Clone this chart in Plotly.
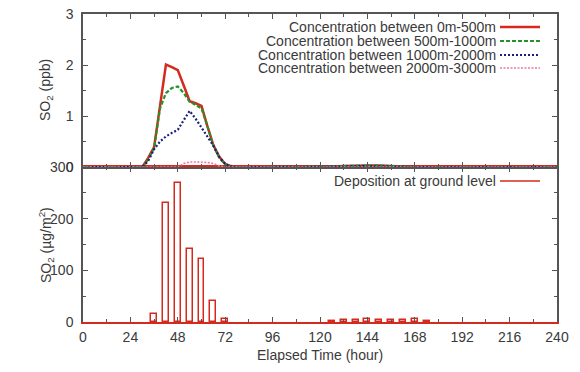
import plotly.graph_objects as go

# ---- data ----
hours = [0, 24, 30, 33, 36, 39, 42, 45, 48, 51, 54, 57, 60, 63, 66, 69, 72, 75, 78,
         84, 96, 120, 126, 132, 138, 144, 150, 156, 162, 168, 180, 240]
conc_0_500 = [0, 0, 0, 0.18, 0.39, 1.2, 2.01, 1.96, 1.9, 1.6, 1.29, 1.25, 1.2, 0.8, 0.43, 0.2, 0.06, 0.02, 0,
              0, 0, 0, 0.01, 0.02, 0.03, 0.03, 0.03, 0.02, 0.01, 0, 0, 0]
conc_500_1000 = [0, 0, 0, 0.15, 0.37, 1.15, 1.45, 1.55, 1.58, 1.45, 1.28, 1.22, 1.15, 0.8, 0.42, 0.18, 0.05, 0.01, 0,
                 0, 0, 0, 0.01, 0.02, 0.03, 0.03, 0.03, 0.02, 0.01, 0, 0, 0]
conc_1000_2000 = [0, 0, 0, 0.12, 0.35, 0.5, 0.6, 0.67, 0.73, 0.92, 1.1, 0.95, 0.78, 0.6, 0.42, 0.2, 0.06, 0.01, 0,
                  0, 0, 0, 0.01, 0.01, 0.02, 0.02, 0.02, 0.01, 0.01, 0, 0, 0]
conc_2000_3000 = [0, 0, 0, 0, 0, 0, 0, 0, 0, 0.07, 0.1, 0.1, 0.1, 0.09, 0.07, 0.02, 0, 0, 0,
                  0, 0, 0, 0, 0, 0, 0, 0, 0, 0, 0, 0, 0]

dep_hours = [36, 42, 48, 54, 60, 66, 72, 126, 132, 138, 144, 150, 156, 162, 168, 174]
deposition = [15, 230, 269, 141, 121, 41, 6, 2, 3, 3, 5, 3, 3, 3, 5, 1]

x_ticks = [0, 24, 48, 72, 96, 120, 144, 168, 192, 216, 240]
series_names = ["Concentration between 0m-500m", "Concentration between 500m-1000m",
                "Concentration between 1000m-2000m", "Concentration between 2000m-3000m"]
dep_name = "Deposition at ground level"

# ---- style ----
RED = "#d42a1e"
GREEN = "#22932a"
BLUE = "#1c1f7a"
PINK = "#e77aa8"
AX = "#555555"
TXT = "#3a3a3a"
FONT = "Liberation Sans, Arial, sans-serif"
FS = 14

styles = [
    dict(color=RED, width=2.5, dash="solid"),
    dict(color=GREEN, width=2.2, dash="4px,2px"),
    dict(color=BLUE, width=2.2, dash="2px,2px"),
    dict(color=PINK, width=1.6, dash="2px,1.5px"),
]
series = [conc_0_500, conc_500_1000, conc_1000_2000, conc_2000_3000]

fig = go.Figure()
for name, vals, st in zip(series_names, series, styles):
    fig.add_trace(go.Scatter(x=hours, y=vals, mode="lines", name=name, line=st,
                             xaxis="x2", yaxis="y2", showlegend=False))

fig.add_trace(go.Bar(x=dep_hours, y=deposition, width=3, name=dep_name,
                     marker=dict(color="white", line=dict(color=RED, width=1.5)),
                     xaxis="x", yaxis="y", showlegend=False))

tickfont = dict(family=FONT, size=FS, color=TXT)
common_x = dict(range=[0, 240], tickvals=x_ticks, ticks="inside", ticklen=5, tickcolor=AX,
                tickwidth=1.2, showline=True, linewidth=1.5, mirror="allticks", showgrid=False,
                zeroline=False, automargin=False, ticklabeloverflow="allow",
                minor=dict(dtick=12, tick0=0, ticks="inside", ticklen=3, tickcolor=AX),
                tickfont=tickfont)
common_y = dict(ticks="inside", ticklen=5, tickcolor=AX, showline=True, linecolor=AX, linewidth=1.5,
                mirror="allticks", showgrid=False, zeroline=False, automargin=False,
                ticklabeloverflow="allow", tickfont=tickfont, ticklabelstandoff=5)

fig.update_layout(
    width=580, height=372,
    margin=dict(l=83, r=23, t=14, b=50, autoexpand=False),
    paper_bgcolor="white", plot_bgcolor="white",
    bargap=0,
    xaxis=dict(**common_x, domain=[0, 1], anchor="y", linecolor=RED, ticklabelstandoff=1),
    xaxis2=dict(**common_x, domain=[0, 1], anchor="y2", matches="x", showticklabels=False,
                linecolor=AX),
    yaxis=dict(**common_y, domain=[0, 0.503], range=[0, 300], tickvals=[0, 100, 200, 300],
               minor=dict(dtick=50, tick0=0, ticks="inside", ticklen=3, tickcolor=AX)),
    yaxis2=dict(**common_y, domain=[0.503, 1], range=[0, 3], tickvals=[0, 1, 2, 3],
                minor=dict(dtick=0.5, tick0=0, ticks="inside", ticklen=3, tickcolor=AX)),
)

# positions given in window pixels; plot area spans x 83..557, y 14..322
W, H, L, T = 474, 308, 83, 14
def px(xp):
    return (xp - L) / W
def py(yp):
    return (T + H - yp) / H

ann_font = dict(family=FONT, size=FS, color=TXT)
fig.add_annotation(text="SO<sub>2</sub> (ppb)", xref="paper", yref="paper", x=px(46), y=py(90),
                   textangle=-90, showarrow=False, font=ann_font, xanchor="center", yanchor="middle")
fig.add_annotation(text="SO<sub>2</sub> (µg/m<sup>2</sup>)", xref="paper", yref="paper", x=px(46),
                   y=py(245), textangle=-90, showarrow=False, font=ann_font,
                   xanchor="center", yanchor="middle")
fig.add_annotation(text="Elapsed Time (hour)", xref="paper", yref="paper", x=px(320), y=py(355),
                   showarrow=False, font=ann_font, xanchor="center", yanchor="middle")

# legends (gnuplot style: text right, sample to the right)
leg_rows = [27, 41, 55, 68]
for name, st, yr in zip(series_names, styles, leg_rows):
    fig.add_annotation(text=name, xref="paper", yref="paper", x=px(498), y=py(yr),
                       showarrow=False, font=ann_font, xanchor="right", yanchor="middle")
    fig.add_shape(type="line", xref="paper", yref="paper", x0=px(500), x1=px(540),
                  y0=py(yr), y1=py(yr), line=st)
fig.add_annotation(text=dep_name, xref="paper", yref="paper", x=px(498), y=py(181),
                   showarrow=False, font=ann_font, xanchor="right", yanchor="middle")
fig.add_shape(type="line", xref="paper", yref="paper", x0=px(500), x1=px(540),
              y0=py(181), y1=py(181), line=dict(color=RED, width=1.5))

# remove the default 8px page margin so the figure fills the window exactly
fig.write_html("out.html", config={"displayModeBar": False},
               post_script="document.body.style.margin='0';")
